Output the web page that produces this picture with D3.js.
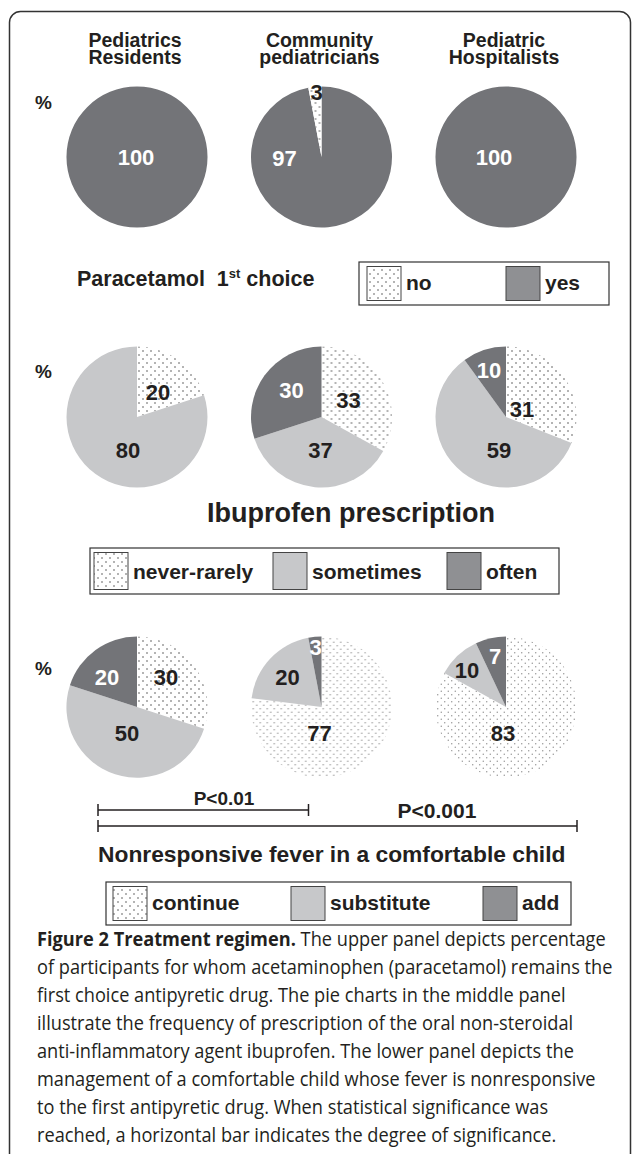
<!DOCTYPE html>
<html>
<head>
<meta charset="utf-8">
<script src="https://cdn.jsdelivr.net/npm/d3@7"></script>
<style>
body { margin: 0; background: #fff; }
text { font-family: "Liberation Sans", Arial, sans-serif; fill: #231f20; }
</style>
</head>
<body>
<script>
// column headers
var colTop = ["Pediatrics", "Community", "Pediatric"];
var colBottom = ["Residents", "pediatricians", "Hospitalists"];

// Paracetamol 1st choice (%), drawn clockwise from 12 o'clock: yes, no
var paraNo = [0, 3, 0];
var paraYes = [100, 97, 100];

// Ibuprofen prescription (%), clockwise: never-rarely, sometimes, often
var ibuNever = [20, 33, 31];
var ibuSometimes = [80, 37, 59];
var ibuOften = [0, 30, 10];

// Nonresponsive fever (%), clockwise: continue, substitute, add
var feverContinue = [30, 77, 83];
var feverSubstitute = [50, 20, 10];
var feverAdd = [20, 3, 7];

var pLabels = ["P<0.01", "P<0.001"];

var caption = [
    "The upper panel depicts percentage",
    "of participants for whom acetaminophen (paracetamol) remains the",
    "first choice antipyretic drug. The pie charts in the middle panel",
    "illustrate the frequency of prescription of the oral non-steroidal",
    "anti-inflammatory agent ibuprofen. The lower panel depicts the",
    "management of a comfortable child whose fever is nonresponsive",
    "to the first antipyretic drug. When statistical significance was",
    "reached, a horizontal bar indicates the degree of significance."
];

var w = 636, h = 1154;
var dark = "#737478", light = "#c7c8ca", legendDark = "#8f9093";
var r = 70.5;

var svg = d3.select("body").append("svg").attr("width", w).attr("height", h);

var defs = svg.append("defs");
function dotPattern(id, step, col, rad) {
    var p = defs.append("pattern").attr("id", id)
        .attr("width", step).attr("height", step).attr("patternUnits", "userSpaceOnUse");
    p.append("rect").attr("width", step).attr("height", step).attr("fill", "#fff");
    p.append("circle").attr("cx", step / 4).attr("cy", step / 4).attr("r", rad).attr("fill", col);
    p.append("circle").attr("cx", step * 3 / 4).attr("cy", step * 3 / 4).attr("r", rad).attr("fill", col);
}
dotPattern("dots", 8, "#444", 0.75);
dotPattern("dotsFine", 7, "#8a8a8a", 0.65);

// frame
svg.append("rect").attr("x", 9.5).attr("y", 11.5).attr("width", 621).attr("height", 1200)
    .attr("rx", 11).attr("fill", "none").attr("stroke", "#333").attr("stroke-width", 1.5);

var xCol = d3.scalePoint().domain([0, 1, 2]).range([137, 506]);

// headers
[0, 1, 2].forEach(function(i) {
    svg.append("text").attr("x", xCol(i) - 2).attr("y", 47).attr("text-anchor", "middle")
        .attr("font-size", "19.5px").attr("font-weight", "bold").text(colTop[i]);
    svg.append("text").attr("x", xCol(i) - 2).attr("y", 64).attr("text-anchor", "middle")
        .attr("font-size", "19.5px").attr("font-weight", "bold").text(colBottom[i]);
});

var pie = d3.pie().sort(null).value(function(d) { return d.v; });
var arc = d3.arc().innerRadius(0).outerRadius(r);

// label offsets from the pie centre, one per slice (layout only)
var rows = [
    {cy: 157, pctY: 109, series: [paraYes, paraNo], fills: [dark, "dots"], txt: ["#fff", "#231f20"],
     nudge: [[[-1, 0], [0, 0]], [[-37, 1], [-5, -65]], [[-12, 0], [0, 0]]]},
    {cy: 417, pctY: 378, series: [ibuNever, ibuSometimes, ibuOften], fills: ["dots", light, dark], txt: ["#231f20", "#231f20", "#fff"],
     nudge: [[[21, -25], [-9, 33], [0, 0]], [[27, -17], [-1, 33], [-30, -27]], [[16, -8], [-7, 33], [-17, -47]]]},
    {cy: 707, pctY: 675, series: [feverContinue, feverSubstitute, feverAdd], fills: ["dots", light, dark], txt: ["#231f20", "#231f20", "#fff"],
     nudge: [[[29, -30], [-10, 26], [-30, -30]], [[-2, 26], [-34, -30], [-6, -60]], [[-3, 26], [-39, -37], [-11, -51]]]}
];

rows.forEach(function(row, ri) {
    svg.append("text").attr("x", 35).attr("y", row.pctY).attr("font-size", "19px")
        .attr("font-weight", "bold").text("%");
    [0, 1, 2].forEach(function(i) {
        var slices = row.series.map(function(s, k) { return {v: s[i], k: k}; });
        var g = svg.append("g").attr("transform", "translate(" + xCol(i) + "," + row.cy + ")");
        g.selectAll("path").data(pie(slices)).enter().append("path")
            .attr("d", arc)
            .attr("fill", function(d) {
                var f = row.fills[d.data.k];
                if (f === "dots") return (ri === 2 && i > 0) ? "url(#dotsFine)" : "url(#dots)";
                return f;
            });
        g.selectAll("text").data(slices.filter(function(d) { return d.v > 0; })).enter().append("text")
            .attr("x", function(d) { return row.nudge[i][d.k][0]; })
            .attr("y", function(d) { return row.nudge[i][d.k][1]; })
            .attr("dy", "0.36em")
            .attr("text-anchor", "middle")
            .attr("font-size", "22px").attr("font-weight", "bold")
            .style("fill", function(d) { return row.txt[d.k]; })
            .text(function(d) { return d.v; });
    });
});

// titles
var t1 = svg.append("text").attr("x", 77).attr("y", 286).attr("font-size", "21.5px").attr("font-weight", "bold");
t1.append("tspan").text("Paracetamol\u00a0\u00a01");
t1.append("tspan").attr("font-size", "13px").attr("dy", -8).text("st");
t1.append("tspan").attr("dy", 8).text(" choice");

svg.append("text").attr("x", 207).attr("y", 522).attr("font-size", "27px").attr("font-weight", "bold")
    .text("Ibuprofen prescription");
svg.append("text").attr("x", 98).attr("y", 862).attr("font-size", "22.8px").attr("font-weight", "bold")
    .text("Nonresponsive fever in a comfortable child");

// legends
function legend(box, items) {
    var g = svg.append("g");
    g.append("rect").attr("x", box[0]).attr("y", box[1]).attr("width", box[2]).attr("height", box[3])
        .attr("fill", "#fff").attr("stroke", "#333").attr("stroke-width", 1.2);
    items.forEach(function(it) {
        g.append("rect").attr("x", it.x).attr("y", box[1] + 4.5).attr("width", 34).attr("height", box[3] - 9)
            .attr("fill", it.fill).attr("stroke", "#444").attr("stroke-width", 1);
        g.append("text").attr("x", it.x + 39).attr("y", box[1] + box[3] - 15)
            .attr("font-size", "21px").attr("font-weight", "bold").text(it.label);
    });
}
legend([359, 262, 250, 43], [
    {x: 367, fill: "url(#dots)", label: "no"},
    {x: 506, fill: legendDark, label: "yes"}
]);
legend([90, 548, 469, 46], [
    {x: 94, fill: "url(#dots)", label: "never-rarely"},
    {x: 273, fill: light, label: "sometimes"},
    {x: 447, fill: legendDark, label: "often"}
]);
legend([106, 882, 465, 43], [
    {x: 113, fill: "url(#dots)", label: "continue"},
    {x: 291, fill: light, label: "substitute"},
    {x: 483, fill: legendDark, label: "add"}
]);

// significance bars
var bars = [
    {x1: xCol(0) - 39, x2: xCol(1) - 13, y: 810, tx: 224, ty: 805, fs: "19px"},
    {x1: xCol(0) - 39, x2: xCol(2) + 71, y: 826, tx: 437, ty: 818, fs: "21px"}
];
bars.forEach(function(b, i) {
    var g = svg.append("g").attr("stroke", "#231f20").attr("stroke-width", 1.5);
    g.append("line").attr("x1", b.x1).attr("x2", b.x2).attr("y1", b.y).attr("y2", b.y);
    g.append("line").attr("x1", b.x1).attr("x2", b.x1).attr("y1", b.y - 6).attr("y2", b.y + 6);
    g.append("line").attr("x1", b.x2).attr("x2", b.x2).attr("y1", b.y - 6).attr("y2", b.y + 6);
    svg.append("text").attr("x", b.tx).attr("y", b.ty).attr("text-anchor", "middle")
        .attr("font-size", b.fs).attr("font-weight", "bold").text(pLabels[i]);
});

// caption
var cap = svg.append("g");
caption.forEach(function(line, i) {
    var t = cap.append("text").attr("x", 0).attr("y", 946 + i * 28)
        .style("font-family", "'Open Sans', sans-serif").attr("font-size", "20px");
    if (i === 0) {
        t.append("tspan").attr("font-weight", "bold").text("Figure 2 Treatment regimen. ");
    }
    t.append("tspan").text(line);
});
var widest = 0;
cap.selectAll("text").each(function() { widest = Math.max(widest, this.getComputedTextLength()); });
cap.attr("transform", "translate(37,0) scale(" + (576 / widest) + ",1)");
</script>
</body>
</html>
